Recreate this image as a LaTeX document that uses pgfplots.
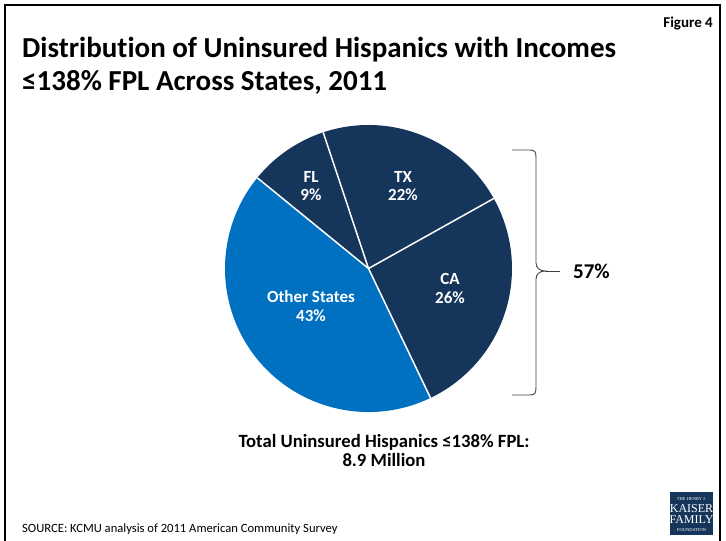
\documentclass[border=0pt]{standalone}
\usepackage{pgfplots}
\pgfplotsset{compat=1.18}
\usepackage{fontspec}
\setmainfont[Ligatures={NoCommon}]{Carlito}
\newfontfamily\logofont{Liberation Serif}
\definecolor{navy}{HTML}{15365A}
\definecolor{kblue}{HTML}{0070C0}
\newcommand{\fs}[1]{\fontsize{#1}{#1}\selectfont}
\begin{document}
\begin{tikzpicture}
\begin{axis}[x=1pt,y=1pt,xmin=0,xmax=726,ymin=0,ymax=541,y dir=reverse,
  hide axis,clip=false,anchor=south west,at={(0,0)}]
% pie: shares in percent (TX 22, CA 26, Other 43, FL 9), clockwise from 108.4 deg
\def\cx{368.5}\def\cy{268.5}\def\r{143.5pt}
\fill[navy]  (axis cs:\cx,\cy) -- ++(108.4:\r) arc[start angle=108.4, delta angle={-3.6*22}, radius=\r] -- cycle;
\fill[navy]  (axis cs:\cx,\cy) -- ++(29.2:\r) arc[start angle=29.2, delta angle={-3.6*26}, radius=\r] -- cycle;
\fill[kblue] (axis cs:\cx,\cy) -- ++(-64.4:\r) arc[start angle=-64.4, delta angle={-3.6*43}, radius=\r] -- cycle;
\fill[navy]  (axis cs:\cx,\cy) -- ++(140.8:\r) arc[start angle=140.8, delta angle={-3.6*9}, radius=\r] -- cycle;
\draw[white,line width=1.5pt] (axis cs:\cx,\cy) -- ++(108.4:\r);
\draw[white,line width=1.5pt] (axis cs:\cx,\cy) -- ++(29.2:\r);
\draw[white,line width=1.5pt] (axis cs:\cx,\cy) -- ++(-64.4:\r);
\draw[white,line width=1.5pt] (axis cs:\cx,\cy) -- ++(140.8:\r);
% slice labels
\tikzset{lab/.style={white,font=\bfseries\fs{17},anchor=base,inner sep=0pt}}
\node[lab] at (axis cs:311,182) {FL};
\node[lab] at (axis cs:311,200) {9\%};
\node[lab] at (axis cs:403,182) {TX};
\node[lab] at (axis cs:403,200) {22\%};
\node[lab] at (axis cs:450,284) {CA};
\node[lab] at (axis cs:450,303) {26\%};
\node[lab] at (axis cs:311,302) {Other States};
\node[lab] at (axis cs:311,321) {43\%};
% brace
\draw[black!75,line width=0.9pt] (axis cs:512,150) -- (axis cs:530,150)
  .. controls (axis cs:535,150) and (axis cs:536,152) .. (axis cs:536,158)
  -- (axis cs:536,263) .. controls (axis cs:536,268) and (axis cs:540,271) .. (axis cs:545,271)
  .. controls (axis cs:540,271) and (axis cs:536,274) .. (axis cs:536,279)
  -- (axis cs:536,387) .. controls (axis cs:536,393) and (axis cs:535,395) .. (axis cs:530,395)
  -- (axis cs:512,395);
\draw[black!75,line width=0.9pt] (axis cs:545,271) -- (axis cs:560,271);
\node[font=\bfseries\fs{21},anchor=base west,inner sep=0pt] at (axis cs:573,278) {57\%};
% titles
\node[font=\bfseries\fs{29},anchor=base west,inner sep=0pt] at (axis cs:22,57) {Distribution of Uninsured Hispanics with Incomes};
\node[font=\bfseries\fs{29},anchor=base west,inner sep=0pt] at (axis cs:22,90) {≤138\% FPL Across States, 2011};
\node[font=\bfseries\fs{15},anchor=base east,inner sep=0pt] at (axis cs:713,27) {Figure 4};
\node[font=\bfseries\fs{18.7},anchor=base,inner sep=0pt] at (axis cs:384,447) {Total Uninsured Hispanics ≤138\% FPL:};
\node[font=\bfseries\fs{18.7},anchor=base,inner sep=0pt] at (axis cs:384,466) {8.9 Million};
\node[font=\fs{12.6},anchor=base west,inner sep=0pt] at (axis cs:22,532) {SOURCE: KCMU analysis of 2011 American Community Survey};
% logo
\fill[navy] (axis cs:670,492) rectangle (axis cs:713,535);
\node[white,font=\logofont\fs{4.5},anchor=base,inner sep=0pt] at (axis cs:691.5,500) {THE HENRY J.};
\node[white,font=\logofont\fs{12},anchor=base,inner sep=0pt] at (axis cs:691.5,512) {KAISER};
\node[white,font=\logofont\fs{12},anchor=base,inner sep=0pt] at (axis cs:691.5,523) {FAMILY};
\node[white,font=\logofont\fs{4.5},anchor=base,inner sep=0pt] at (axis cs:691.5,531) {FOUNDATION};
% frame
\draw[line width=1.3pt] (axis cs:5,545) -- (axis cs:5,5) -- (axis cs:720,5) -- (axis cs:720,545);
\end{axis}
\pgfresetboundingbox
\useasboundingbox (0,0) rectangle (726pt,541pt);
\end{tikzpicture}
\end{document}
